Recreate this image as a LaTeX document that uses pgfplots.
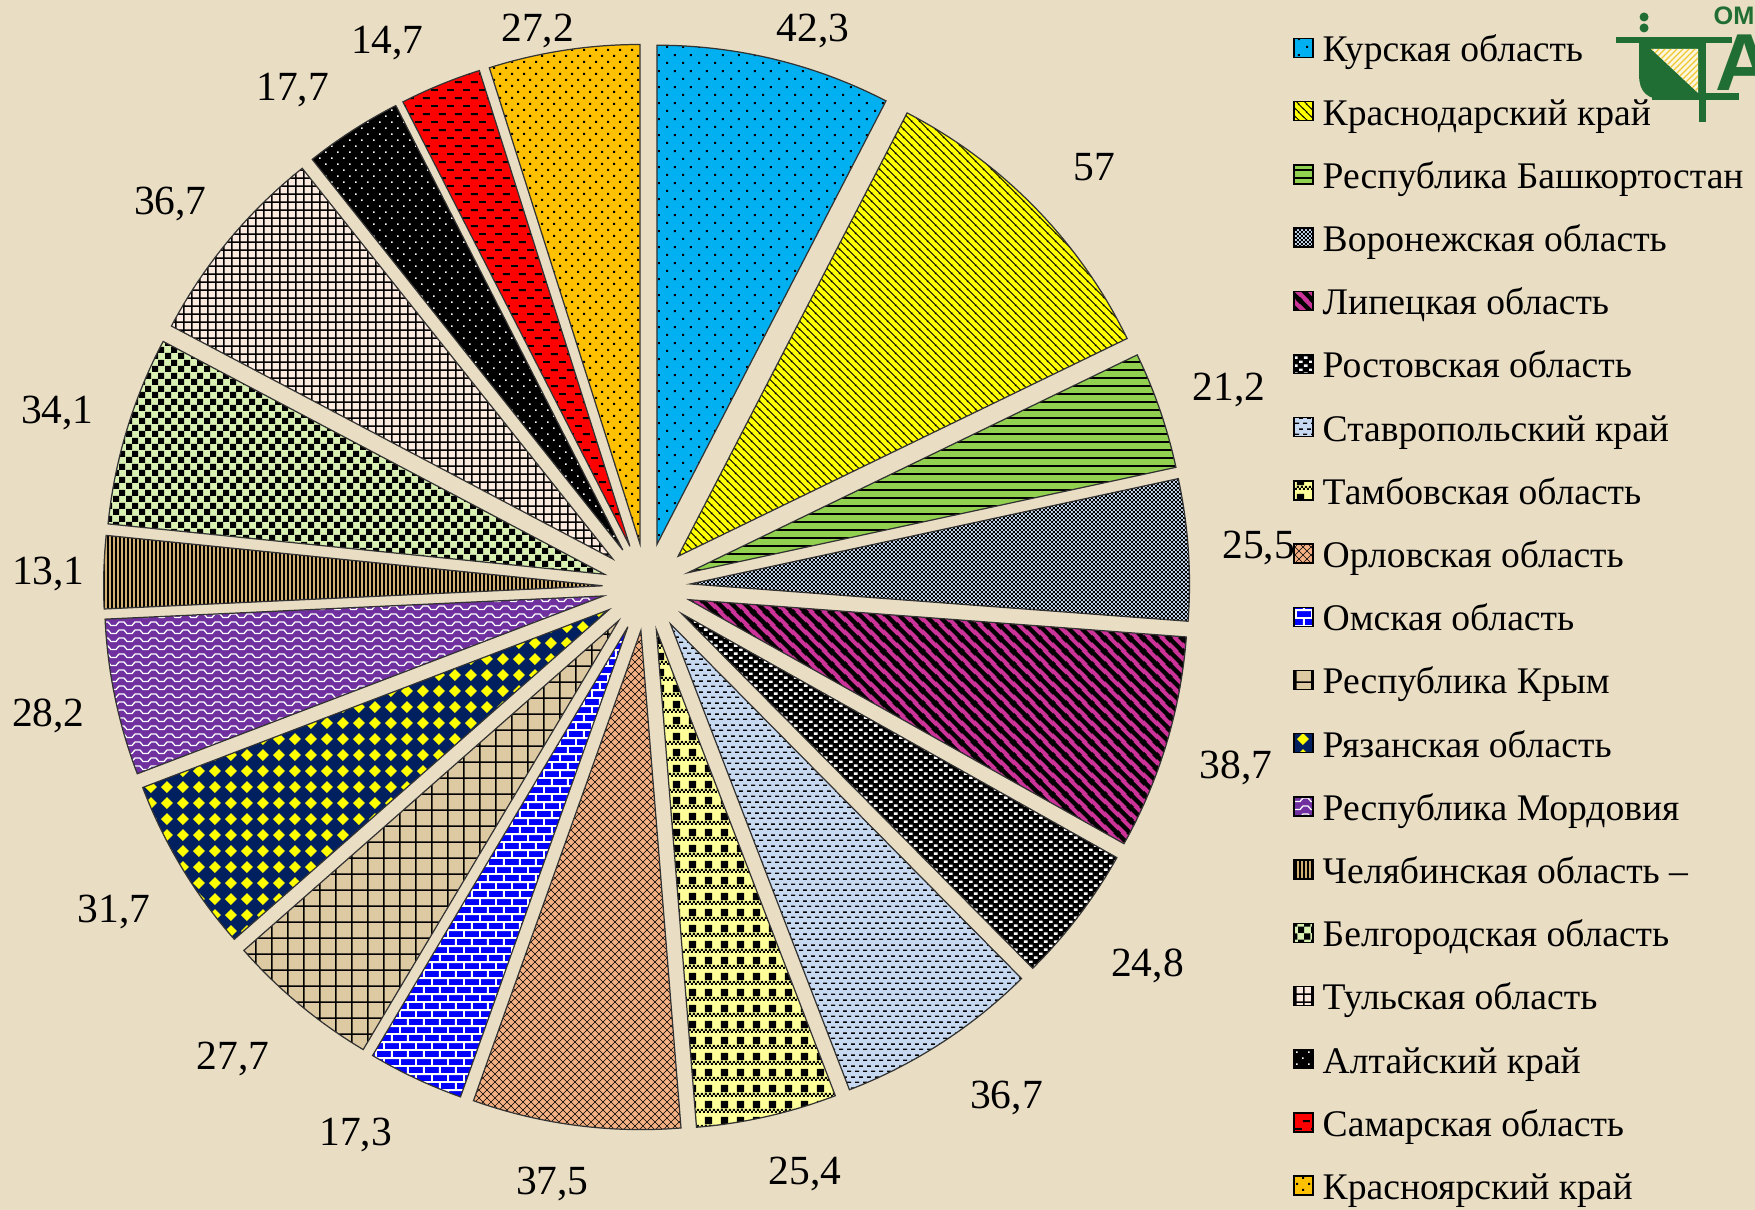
\documentclass[border=0pt]{standalone}
\usepackage{fontspec}
\setmainfont{Liberation Serif}
\newfontfamily\logofont{Liberation Sans}
\usepackage{pgfplots}
\pgfplotsset{compat=1.18}
\usepackage{pgfplotstable}
\usetikzlibrary{patterns}
\pgfkeys{/pgf/number format/assume math mode=true}

\pgfplotstableread{
v
42.3
57
21.2
25.5
38.7
24.8
36.7
25.4
37.5
17.3
27.7
31.7
28.2
13.1
34.1
36.7
17.7
14.7
27.2
}\datatable

% ---------- patterns (1 px of the reference = 0.2845pt) ----------
\pgfdeclarepatternformonly{mykdots}{\pgfqpoint{0pt}{0pt}}{\pgfqpoint{4.55pt}{4.55pt}}{\pgfqpoint{4.55pt}{4.55pt}}{%
\pgfpathrectangle{\pgfqpoint{0.85pt}{0.85pt}}{\pgfqpoint{0.57pt}{0.57pt}}%
\pgfpathrectangle{\pgfqpoint{3.13pt}{3.13pt}}{\pgfqpoint{0.57pt}{0.57pt}}%
\pgfusepath{fill}}
\pgfdeclarepatternformonly{myydots}{\pgfqpoint{0pt}{0pt}}{\pgfqpoint{3.41pt}{3.41pt}}{\pgfqpoint{3.41pt}{3.41pt}}{%
\pgfpathrectangle{\pgfqpoint{0.57pt}{0.57pt}}{\pgfqpoint{0.57pt}{0.57pt}}%
\pgfpathrectangle{\pgfqpoint{2.28pt}{2.28pt}}{\pgfqpoint{0.57pt}{0.57pt}}%
\pgfusepath{fill}}
\pgfdeclarepatternformonly{myadots}{\pgfqpoint{0pt}{0pt}}{\pgfqpoint{3.41pt}{3.41pt}}{\pgfqpoint{3.41pt}{3.41pt}}{%
\pgfpathrectangle{\pgfqpoint{0.57pt}{0.57pt}}{\pgfqpoint{0.45pt}{0.45pt}}%
\pgfpathrectangle{\pgfqpoint{2.28pt}{2.28pt}}{\pgfqpoint{0.45pt}{0.45pt}}%
\pgfusepath{fill}}
\pgfdeclarepatternformonly{mydiagS}{\pgfqpoint{0pt}{0pt}}{\pgfqpoint{2.2pt}{2.2pt}}{\pgfqpoint{2.2pt}{2.2pt}}{%
\pgfsetlinewidth{0.27pt}%
\pgfpathmoveto{\pgfqpoint{-0.5pt}{0.5pt}}\pgfpathlineto{\pgfqpoint{0.5pt}{-0.5pt}}%
\pgfpathmoveto{\pgfqpoint{-0.5pt}{2.7pt}}\pgfpathlineto{\pgfqpoint{2.7pt}{-0.5pt}}%
\pgfpathmoveto{\pgfqpoint{1.7pt}{2.7pt}}\pgfpathlineto{\pgfqpoint{2.7pt}{1.7pt}}%
\pgfusepath{stroke}}
\pgfdeclarepatternformonly{mydiagW}{\pgfqpoint{0pt}{0pt}}{\pgfqpoint{3.7pt}{3.7pt}}{\pgfqpoint{3.7pt}{3.7pt}}{%
\pgfsetlinewidth{1.3pt}%
\pgfpathmoveto{\pgfqpoint{-1pt}{1pt}}\pgfpathlineto{\pgfqpoint{1pt}{-1pt}}%
\pgfpathmoveto{\pgfqpoint{-1pt}{4.7pt}}\pgfpathlineto{\pgfqpoint{4.7pt}{-1pt}}%
\pgfpathmoveto{\pgfqpoint{2.7pt}{4.7pt}}\pgfpathlineto{\pgfqpoint{4.7pt}{2.7pt}}%
\pgfusepath{stroke}}
\pgfdeclarepatternformonly{myhlines}{\pgfqpoint{0pt}{0pt}}{\pgfqpoint{2.276pt}{2.276pt}}{\pgfqpoint{2.276pt}{2.276pt}}{%
\pgfpathrectangle{\pgfqpoint{0pt}{0pt}}{\pgfqpoint{2.276pt}{0.569pt}}\pgfusepath{fill}}
\pgfdeclarepatternformonly{myfchecker}{\pgfqpoint{0pt}{0pt}}{\pgfqpoint{1.138pt}{1.138pt}}{\pgfqpoint{1.138pt}{1.138pt}}{%
\pgfpathrectangle{\pgfqpoint{0pt}{0pt}}{\pgfqpoint{0.569pt}{0.569pt}}%
\pgfpathrectangle{\pgfqpoint{0.569pt}{0.569pt}}{\pgfqpoint{0.569pt}{0.569pt}}\pgfusepath{fill}}
\pgfdeclarepatternformonly{myrconf}{\pgfqpoint{0pt}{0pt}}{\pgfqpoint{2.845pt}{2.276pt}}{\pgfqpoint{2.845pt}{2.276pt}}{%
\pgfpathrectangle{\pgfqpoint{0pt}{0pt}}{\pgfqpoint{1.0pt}{0.71pt}}%
\pgfpathrectangle{\pgfqpoint{1.42pt}{1.14pt}}{\pgfqpoint{1.0pt}{0.71pt}}\pgfusepath{fill}}
\pgfdeclarepatternformonly{mysdash}{\pgfqpoint{0pt}{0pt}}{\pgfqpoint{2.276pt}{3.02pt}}{\pgfqpoint{2.276pt}{3.02pt}}{%
\pgfpathrectangle{\pgfqpoint{0pt}{0pt}}{\pgfqpoint{1.14pt}{0.43pt}}%
\pgfpathrectangle{\pgfqpoint{1.14pt}{1.51pt}}{\pgfqpoint{1.14pt}{0.43pt}}\pgfusepath{fill}}
\pgfdeclarepatternformonly{myplaid}{\pgfqpoint{0pt}{0pt}}{\pgfqpoint{4.552pt}{4.552pt}}{\pgfqpoint{4.552pt}{4.552pt}}{%
\pgfpathrectangle{\pgfqpoint{0.569pt}{1.70pt}}{\pgfqpoint{2.0pt}{2.0pt}}%
\pgfpathrectangle{\pgfqpoint{0pt}{0.285pt}}{\pgfqpoint{0.569pt}{0.569pt}}%
\pgfpathrectangle{\pgfqpoint{1.138pt}{0.285pt}}{\pgfqpoint{0.569pt}{0.569pt}}%
\pgfpathrectangle{\pgfqpoint{2.276pt}{0.285pt}}{\pgfqpoint{0.569pt}{0.569pt}}%
\pgfpathrectangle{\pgfqpoint{3.414pt}{0.285pt}}{\pgfqpoint{0.569pt}{0.569pt}}%
\pgfpathrectangle{\pgfqpoint{0.569pt}{0.854pt}}{\pgfqpoint{0.569pt}{0.569pt}}%
\pgfpathrectangle{\pgfqpoint{1.707pt}{0.854pt}}{\pgfqpoint{0.569pt}{0.569pt}}%
\pgfpathrectangle{\pgfqpoint{2.845pt}{0.854pt}}{\pgfqpoint{0.569pt}{0.569pt}}%
\pgfpathrectangle{\pgfqpoint{3.983pt}{0.854pt}}{\pgfqpoint{0.569pt}{0.569pt}}%
\pgfusepath{fill}}
\pgfdeclarepatternformonly{myxhatch}{\pgfqpoint{0pt}{0pt}}{\pgfqpoint{2.276pt}{2.276pt}}{\pgfqpoint{2.276pt}{2.276pt}}{%
\pgfsetlinewidth{0.2pt}%
\pgfpathmoveto{\pgfqpoint{-0.5pt}{0.5pt}}\pgfpathlineto{\pgfqpoint{0.5pt}{-0.5pt}}%
\pgfpathmoveto{\pgfqpoint{-0.5pt}{2.776pt}}\pgfpathlineto{\pgfqpoint{2.776pt}{-0.5pt}}%
\pgfpathmoveto{\pgfqpoint{1.776pt}{2.776pt}}\pgfpathlineto{\pgfqpoint{2.776pt}{1.776pt}}%
\pgfpathmoveto{\pgfqpoint{-0.5pt}{-0.5pt}}\pgfpathlineto{\pgfqpoint{2.776pt}{2.776pt}}%
\pgfpathmoveto{\pgfqpoint{1.776pt}{-0.5pt}}\pgfpathlineto{\pgfqpoint{2.776pt}{0.5pt}}%
\pgfpathmoveto{\pgfqpoint{-0.5pt}{1.776pt}}\pgfpathlineto{\pgfqpoint{0.5pt}{2.776pt}}%
\pgfusepath{stroke}}
\pgfdeclarepatternformonly{mybricks}{\pgfqpoint{0pt}{0pt}}{\pgfqpoint{4.552pt}{4.552pt}}{\pgfqpoint{4.552pt}{4.552pt}}{%
\pgfpathrectangle{\pgfqpoint{0pt}{0pt}}{\pgfqpoint{4.552pt}{0.569pt}}%
\pgfpathrectangle{\pgfqpoint{0pt}{2.276pt}}{\pgfqpoint{4.552pt}{0.569pt}}%
\pgfpathrectangle{\pgfqpoint{0pt}{0.569pt}}{\pgfqpoint{0.569pt}{1.707pt}}%
\pgfpathrectangle{\pgfqpoint{2.276pt}{2.845pt}}{\pgfqpoint{0.569pt}{1.707pt}}%
\pgfusepath{fill}}
\pgfdeclarepatternformonly{mygridL}{\pgfqpoint{0pt}{0pt}}{\pgfqpoint{4.552pt}{4.552pt}}{\pgfqpoint{4.552pt}{4.552pt}}{%
\pgfpathrectangle{\pgfqpoint{0pt}{0pt}}{\pgfqpoint{4.552pt}{0.48pt}}%
\pgfpathrectangle{\pgfqpoint{0pt}{0pt}}{\pgfqpoint{0.48pt}{4.552pt}}\pgfusepath{fill}}
\pgfdeclarepatternformonly{mydiamonds}{\pgfqpoint{0pt}{0pt}}{\pgfqpoint{4.552pt}{4.552pt}}{\pgfqpoint{4.552pt}{4.552pt}}{%
\pgfpathmoveto{\pgfqpoint{0.569pt}{2.276pt}}\pgfpathlineto{\pgfqpoint{2.276pt}{3.983pt}}%
\pgfpathlineto{\pgfqpoint{3.983pt}{2.276pt}}\pgfpathlineto{\pgfqpoint{2.276pt}{0.569pt}}\pgfpathclose%
\pgfusepath{fill}}
\pgfdeclarepatternformonly{mywaves}{\pgfqpoint{0pt}{0pt}}{\pgfqpoint{4.552pt}{2.276pt}}{\pgfqpoint{4.552pt}{2.276pt}}{%
\pgfsetlinewidth{0.37pt}%
\pgfpathmoveto{\pgfqpoint{-0.2pt}{0.427pt}}\pgfpathlineto{\pgfqpoint{1.423pt}{0.427pt}}%
\pgfpathlineto{\pgfqpoint{2.276pt}{1.423pt}}\pgfpathlineto{\pgfqpoint{3.699pt}{1.423pt}}%
\pgfpathlineto{\pgfqpoint{4.552pt}{0.427pt}}\pgfpathlineto{\pgfqpoint{4.8pt}{0.427pt}}%
\pgfusepath{stroke}}
\pgfdeclarepatternformonly{myvlines}{\pgfqpoint{0pt}{0pt}}{\pgfqpoint{1.138pt}{1.138pt}}{\pgfqpoint{1.138pt}{1.138pt}}{%
\pgfpathrectangle{\pgfqpoint{0pt}{0pt}}{\pgfqpoint{0.569pt}{1.138pt}}\pgfusepath{fill}}
\pgfdeclarepatternformonly{mycheckerL}{\pgfqpoint{0pt}{0pt}}{\pgfqpoint{3.585pt}{3.585pt}}{\pgfqpoint{3.585pt}{3.585pt}}{%
\pgfpathrectangle{\pgfqpoint{0pt}{0pt}}{\pgfqpoint{1.7925pt}{1.7925pt}}%
\pgfpathrectangle{\pgfqpoint{1.7925pt}{1.7925pt}}{\pgfqpoint{1.7925pt}{1.7925pt}}\pgfusepath{fill}}
\pgfdeclarepatternformonly{mygridS}{\pgfqpoint{0pt}{0pt}}{\pgfqpoint{2.276pt}{2.276pt}}{\pgfqpoint{2.276pt}{2.276pt}}{%
\pgfpathrectangle{\pgfqpoint{0pt}{0pt}}{\pgfqpoint{2.276pt}{0.48pt}}%
\pgfpathrectangle{\pgfqpoint{0pt}{0pt}}{\pgfqpoint{0.48pt}{2.276pt}}\pgfusepath{fill}}
\pgfdeclarepatternformonly{mydashes}{\pgfqpoint{0pt}{0pt}}{\pgfqpoint{4.552pt}{4.552pt}}{\pgfqpoint{4.552pt}{4.552pt}}{%
\pgfpathrectangle{\pgfqpoint{0pt}{0pt}}{\pgfqpoint{1.99pt}{0.5pt}}%
\pgfpathrectangle{\pgfqpoint{2.276pt}{2.276pt}}{\pgfqpoint{1.99pt}{0.5pt}}\pgfusepath{fill}}
\pgfdeclarepatternformonly{mylogostripes}{\pgfqpoint{0pt}{0pt}}{\pgfqpoint{1.707pt}{1.707pt}}{\pgfqpoint{1.707pt}{1.707pt}}{%
\pgfsetlinewidth{0.4pt}%
\pgfpathmoveto{\pgfqpoint{-0.5pt}{-0.5pt}}\pgfpathlineto{\pgfqpoint{2.207pt}{2.207pt}}%
\pgfpathmoveto{\pgfqpoint{1.207pt}{-0.5pt}}\pgfpathlineto{\pgfqpoint{2.207pt}{0.5pt}}%
\pgfpathmoveto{\pgfqpoint{-0.5pt}{1.207pt}}\pgfpathlineto{\pgfqpoint{0.5pt}{2.207pt}}%
\pgfusepath{stroke}}

% ---------- colours ----------
\definecolor{bgc}{RGB}{233,221,196}
\definecolor{c0}{RGB}{0,176,240}
\definecolor{c1}{RGB}{255,255,0}
\definecolor{c2}{RGB}{146,208,80}
\definecolor{c3}{RGB}{197,217,241}
\definecolor{c4}{RGB}{204,51,153}
\definecolor{c6}{RGB}{198,217,240}
\definecolor{c7}{RGB}{255,255,153}
\definecolor{c8}{RGB}{244,177,131}
\definecolor{c9}{RGB}{0,0,255}
\definecolor{c10}{RGB}{222,202,162}
\definecolor{c11}{RGB}{0,32,96}
\definecolor{c12}{RGB}{112,48,160}
\definecolor{c13}{RGB}{210,175,115}
\definecolor{c14}{RGB}{216,240,178}
\definecolor{c15}{RGB}{253,234,222}
\definecolor{c17}{RGB}{255,0,0}
\definecolor{c18}{RGB}{255,192,0}
\definecolor{logog}{RGB}{32,110,52}
\definecolor{logoy}{RGB}{242,200,50}

\tikzset{
 p0/.style={fill=c0,postaction={pattern=mykdots,pattern color=black}},
 p1/.style={fill=c1,postaction={pattern=mydiagS,pattern color=black}},
 p2/.style={fill=c2,postaction={pattern=myhlines,pattern color=black}},
 p3/.style={fill=c3,postaction={pattern=myfchecker,pattern color=black}},
 p4/.style={fill=c4,postaction={pattern=mydiagW,pattern color=black}},
 p5/.style={fill=black,postaction={pattern=myrconf,pattern color=white}},
 p6/.style={fill=c6,postaction={pattern=mysdash,pattern color=black}},
 p7/.style={fill=c7,postaction={pattern=myplaid,pattern color=black}},
 p8/.style={fill=c8,postaction={pattern=myxhatch,pattern color=black}},
 p9/.style={fill=c9,postaction={pattern=mybricks,pattern color=white}},
 p10/.style={fill=c10,postaction={pattern=mygridL,pattern color=black}},
 p11/.style={fill=c11,postaction={pattern=mydiamonds,pattern color=c1}},
 p12/.style={fill=c12,postaction={pattern=mywaves,pattern color=white}},
 p13/.style={fill=c13,postaction={pattern=myvlines,pattern color=black}},
 p14/.style={fill=c14,postaction={pattern=mycheckerL,pattern color=black}},
 p15/.style={fill=c15,postaction={pattern=mygridS,pattern color=black}},
 p16/.style={fill=black,postaction={pattern=myadots,pattern color=white}},
 p17/.style={fill=c17,postaction={pattern=mydashes,pattern color=black}},
 p18/.style={fill=c18,postaction={pattern=myydots,pattern color=black}},
}
\newcommand\lblfont{\fontsize{11.8pt}{14pt}\selectfont}
\newcommand\legfont{\fontsize{10.7pt}{13pt}\selectfont}

\begin{document}
\begin{tikzpicture}
\fill[bgc] (0,0) rectangle (17.55cm,12.10cm);
\begin{axis}[at={(0,0)}, anchor=south west, scale only axis,
  width=17.55cm, height=12.10cm, xmin=0, xmax=1755, ymin=0, ymax=1210,
  hide axis, clip=false]
\pgfplotsextra{%
  \def\pcx{646.6}\def\pcy{623}\def\pex{44}\def\pR{499}\def\Rlen{4.99cm}%
  \xdef\mytotal{0}%
  \foreach \i in {0,...,18}{%
    \pgfplotstablegetelem{\i}{v}\of\datatable
    \pgfmathsetmacro{\mysum}{\mytotal+\pgfplotsretval}\xdef\mytotal{\mysum}}%
  \xdef\mycum{0}%
  \foreach \i in {0,...,18}{%
    \pgfplotstablegetelem{\i}{v}\of\datatable
    \let\myval\pgfplotsretval
    \pgfmathsetmacro{\mysa}{90-\mycum}%
    \pgfmathsetmacro{\myspan}{\myval/\mytotal*360}%
    \pgfmathsetmacro{\myea}{\mysa-\myspan}%
    \pgfmathsetmacro{\mymd}{\mysa-\myspan/2}%
    \pgfmathsetmacro{\myax}{\pcx+\pex*cos(\mymd)}%
    \pgfmathsetmacro{\myay}{\pcy+\pex*sin(\mymd)}%
    \edef\slst{p\i}%
    \fill[\slst, postaction={draw=black!80, line width=0.35pt, line join=miter}]
      (axis cs:\myax,\myay) -- ++(\mysa:\Rlen)
      arc[start angle=\mysa, end angle=\myea, radius=\Rlen] -- cycle;
    % value label, outside end (half width: 2 digits -> 20.7 px, "dd,d" -> 36.3 px)
    \pgfmathsetmacro{\myhw}{ifthenelse(abs(\myval-int(\myval))<0.001, 20.7, 36.3)}%
    \pgfmathsetmacro{\myhh}{ifthenelse(sin(\mymd)>0, 27, 35)}%
    \pgfmathsetmacro{\myT}{min((\myhw+14)/max(abs(cos(\mymd)),0.001), \myhh/max(abs(sin(\mymd)),0.001))}%
    \pgfmathsetmacro{\myc}{cos(\mymd)}%
    \pgfmathsetmacro{\mydx}{ifthenelse(\myc<0,-1,1)*35*sin(180*min(abs(\myc),0.85)/0.85)}%
    \pgfmathsetmacro{\mylx}{\pcx+(\pex+\pR+20+\myT)*\myc+\mydx}%
    \pgfmathsetmacro{\myly}{\pcy+(\pex+\pR+20+\myT)*sin(\mymd)}%
    \pgfmathsetmacro{\mylx}{max(\myhw+12, min(1755-\myhw-12, \mylx))}%
    \pgfmathsetmacro{\myly}{max(24, min(1182, \myly))-14}%
    \node[inner sep=0pt, anchor=base, font=\lblfont] at (axis cs:\mylx,\myly)
      {\pgfmathprintnumber[use comma]{\myval}};
    \pgfmathsetmacro{\mync}{\mycum+\myspan}\xdef\mycum{\mync}%
  }%
  % legend
  \foreach \nm [count=\k from 0] in {Курская область, Краснодарский край,
     Республика Башкортостан, Воронежская область, Липецкая область,
     Ростовская область, Ставропольский край, Тамбовская область,
     Орловская область, Омская область, Республика Крым, Рязанская область,
     Республика Мордовия, Челябинская область –, Белгородская область,
     Тульская область, Алтайский край, Самарская область, Красноярский край}{%
    \pgfmathsetmacro{\ylo}{1210-48-63.2*\k-9.5}%
    \pgfmathsetmacro{\yhi}{1210-48-63.2*\k+9.5}%
    \pgfmathsetmacro{\ybase}{1210-62-63.2*\k}%
    \edef\slst{p\k}%
    \fill[\slst, postaction={draw=black, line width=0.4pt}]
      (axis cs:1294,\ylo) rectangle (axis cs:1313,\yhi);
    \node[inner sep=0pt, anchor=base west, font=\legfont] at (axis cs:1322,\ybase) {\nm};
  }%
}
\end{axis}
% logo (top right, partly cut off)
\begin{scope}[x=0.01cm, y=-0.01cm, shift={(0,12.10cm)}]
  \fill[logog] (1645,17) circle (4.5);
  \fill[logog] (1645,28) circle (4.5);
  \fill[logog] (1617,37) rectangle (1733,43);
  \fill[logog] (1640,43) -- (1706,43) -- (1706,100) -- (1668,100)
     .. controls (1648,100) and (1640,92) .. (1640,75) -- cycle;
  \fill[white!85!logoy] (1652,49) -- (1699,49) -- (1699,93) -- cycle;
  \fill[pattern=mylogostripes, pattern color=logoy] (1652,49) -- (1699,49) -- (1699,93) -- cycle;
  \fill[logog] (1653,93) rectangle (1740,100);
  \fill[logog] (1700,43) rectangle (1707,122);
  \node[text=logog, anchor=base west, inner sep=0pt,
        font={\logofont\bfseries\fontsize{7.2pt}{8pt}\selectfont}] at (1714,25) {ОМ};
  \node[text=logog, anchor=base west, inner sep=0pt,
        font={\logofont\bfseries\fontsize{23pt}{24pt}\selectfont}] at (1716,91) {А};
\end{scope}
\pgfresetboundingbox
\path[use as bounding box] (0,0) rectangle (17.55cm,12.10cm);
\end{tikzpicture}
\end{document}
